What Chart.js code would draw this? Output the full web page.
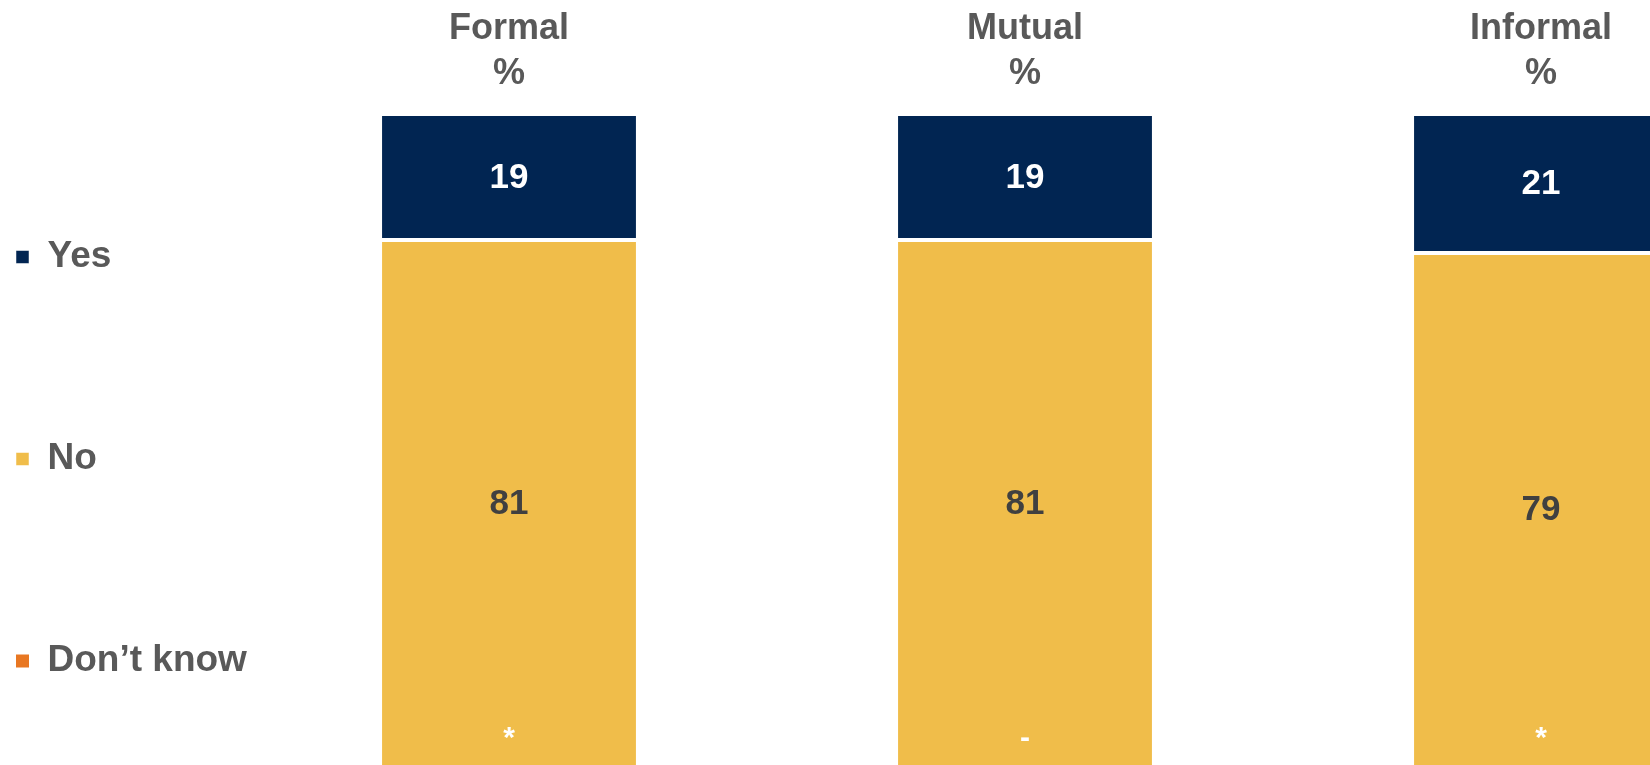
<!DOCTYPE html>
<html>
<head>
<meta charset="utf-8">
<script src="https://cdn.jsdelivr.net/npm/chart.js@4.4.1/dist/chart.umd.min.js"></script>
<style>
  html, body { margin: 0; padding: 0; background: #fff; overflow: hidden; width: 1650px; height: 765px; }
  /* the chart is wider and taller than the window: the last bar and the bar bottoms run off the page */
  #wrap { position: absolute; left: -149px; top: -13px; width: 1948px; height: 900px; }
</style>
</head>
<body>
<div id="wrap"><canvas id="graph"></canvas></div>
<script>
const categories = ['Formal', 'Mutual', 'Informal'];
const unitLine = '%';

const yesValues = [19, 19, 21];
const noValues = [81, 81, 79];
const dontKnowValues = [0, 0, 0];
const dontKnowLabels = ['*', '-', '*'];

const FONT = "'Liberation Sans', Arial, sans-serif";
const GREY = '#595959';

// draws the numbers inside the bars
const valueLabels = {
    id: 'valueLabels',
    afterDatasetsDraw(chart) {
        const ctx = chart.ctx;
        ctx.save();
        ctx.textAlign = 'center';
        ctx.textBaseline = 'middle';
        chart.data.datasets.forEach((ds, i) => {
            const meta = chart.getDatasetMeta(i);
            meta.data.forEach((bar, j) => {
                let y = (bar.y + bar.base) / 2;
                if (ds.labelOffset) {
                    y = bar.base - ds.labelOffset;
                }
                ctx.font = ds.labelFont;
                ctx.fillStyle = ds.labelColor;
                ctx.fillText(ds.labels[j], bar.x, y);
            });
        });
        ctx.restore();
    }
};

const data = {
    labels: categories.map(c => [c, unitLine]),
    datasets: [
        {
            label: 'Don\u2019t know',
            data: dontKnowValues,
            backgroundColor: '#E87722',
            borderWidth: 0,
            labels: dontKnowLabels,
            labelColor: '#ffffff',
            labelFont: 'bold 30px ' + FONT,
            labelOffset: 29
        },
        {
            label: 'No',
            data: noValues,
            backgroundColor: '#F0BD4A',
            borderColor: '#ffffff',
            borderWidth: { top: 2, right: 0, bottom: 0, left: 0 },
            borderSkipped: false,
            labels: noValues.map(String),
            labelColor: '#404040',
            labelFont: 'bold 35px ' + FONT
        },
        {
            label: 'Yes',
            data: yesValues,
            backgroundColor: '#012552',
            borderColor: '#ffffff',
            borderWidth: { top: 0, right: 0, bottom: 2, left: 0 },
            borderSkipped: false,
            labels: yesValues.map(String),
            labelColor: '#ffffff',
            labelFont: 'bold 35px ' + FONT
        }
    ]
};

const config = {
    type: 'bar',
    data: data,
    plugins: [valueLabels],
    options: {
        responsive: true,
        maintainAspectRatio: false,
        animation: false,
        layout: {
            padding: 0
        },
        datasets: {
            bar: {
                categoryPercentage: 1,
                barPercentage: 0.492
            }
        },
        scales: {
            x: {
                stacked: true,
                position: 'top',
                grid: { display: false, drawTicks: false },
                border: { display: false },
                ticks: {
                    color: GREY,
                    padding: 19.5,
                    maxRotation: 0,
                    autoSkip: false,
                    font: { family: FONT, size: 36, weight: 'bold', lineHeight: 1.25 }
                }
            },
            y: {
                stacked: true,
                display: false,
                min: 0,
                max: 100
            }
        },
        plugins: {
            tooltip: { enabled: false },
            // empty spacer under the plot so the bars run past the page bottom
            title: {
                display: true,
                text: '',
                position: 'bottom',
                fullSize: false,
                font: { size: 10 },
                padding: { top: 0, bottom: 107 }
            },
            legend: {
                position: 'left',
                align: 'start',
                reverse: true,
                maxWidth: 400,
                title: {
                    display: true,
                    text: '',
                    font: { size: 10 },
                    padding: { top: 0, bottom: 74.5 }
                },
                labels: {
                    color: GREY,
                    boxWidth: 13,
                    boxHeight: 13,
                    padding: 165,
                    font: { family: FONT, size: 37, weight: 'bold' }
                }
            }
        }
    }
};

new Chart(document.getElementById('graph').getContext('2d'), config);
</script>
</body>
</html>
